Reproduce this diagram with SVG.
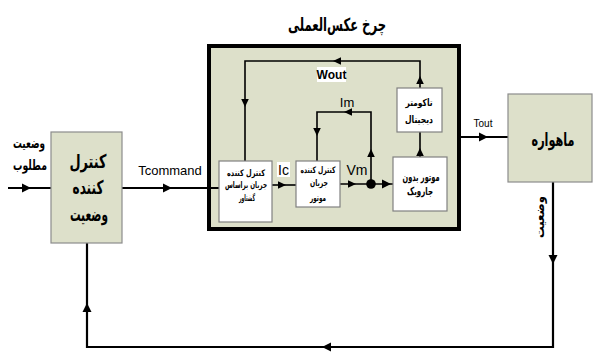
<svg xmlns="http://www.w3.org/2000/svg" width="593" height="353" viewBox="0 0 593 353">
<style>
.fa{font-family:"DejaVu Sans",sans-serif;font-weight:bold;text-anchor:middle;fill:#000}
.en{font-family:"Liberation Sans",Arial,sans-serif;text-anchor:middle;fill:#000}
.kh{fill:#dde0ca;stroke:#8c8c8c;stroke-width:1.2}
.wb{fill:#fff;stroke:#808080;stroke-width:1.2}
.ln{fill:none;stroke:#000;stroke-width:2.2}
.thin{fill:none;stroke:#000;stroke-width:1.6}
</style>
<defs>
<path id="ah" d="M0,0 L-9,-4.5 L-9,4.5 Z" fill="#000"/>
<path id="ahs" d="M0,0 L-8,-3.8 L-8,3.8 Z" fill="#000"/>
</defs>
<rect width="593" height="353" fill="#fff"/>

<g id="title">
<text class="fa" x="337" y="31" font-size="18" textLength="98" lengthAdjust="spacingAndGlyphs">چرخ عکس‌العملی</text>
</g>

<g id="reaction-wheel-loop">
<rect x="209" y="46" width="250" height="183" fill="#dde0ca" stroke="#000" stroke-width="4"/>
</g>

<g id="connectors">
<path class="ln" d="M8,188 H51"/>
<use href="#ah" transform="translate(31,188)"/>
<path class="ln" d="M122,188 H219"/>
<use href="#ah" transform="translate(172,188)"/>
<path class="thin" d="M272,185 H296"/>
<use href="#ahs" transform="translate(286,185)"/>
<path class="thin" d="M340,184 H393"/>
<use href="#ahs" transform="translate(356,184)"/>
<use href="#ah" transform="translate(391,184)"/>
<circle cx="371" cy="184" r="4.8" fill="#000"/>
<path class="thin" d="M371,184 V112 H317 V161"/>
<use href="#ahs" transform="translate(371,149) rotate(-90)"/>
<use href="#ahs" transform="translate(344,112) rotate(180)"/>
<use href="#ahs" transform="translate(317,136) rotate(90)"/>
<path class="thin" d="M420,157 V132"/>
<use href="#ahs" transform="translate(420,148) rotate(-90)"/>
<path class="thin" d="M420,88 V61 H245 V161"/>
<use href="#ahs" transform="translate(420,76) rotate(-90)"/>
<use href="#ahs" transform="translate(333,61) rotate(180)"/>
<use href="#ahs" transform="translate(245,107) rotate(90)"/>
<path class="ln" d="M459,137 H508"/>
<use href="#ah" transform="translate(488,137)"/>
<path class="ln" d="M553,182 V347 H87 V243"/>
<use href="#ah" transform="translate(553,264) rotate(90)"/>
<use href="#ah" transform="translate(322,347) rotate(180)"/>
<use href="#ah" transform="translate(87,303) rotate(-90)"/>
</g>

<g id="labels">
<text class="fa" x="29" y="148" font-size="14" textLength="32" lengthAdjust="spacingAndGlyphs">وضعیت</text>
<text class="fa" x="30" y="170" font-size="14" textLength="34" lengthAdjust="spacingAndGlyphs">مطلوب</text>
<text class="en" x="170" y="175" font-size="13">Tcommand</text>
<rect x="277" y="162" width="13" height="15" fill="#fff"/>
<text class="en" x="283.5" y="175" font-size="14">Ic</text>
<text class="en" x="357" y="175" font-size="14">Vm</text>
<text class="en" x="347" y="107" font-size="13">Im</text>
<rect x="317" y="67" width="29" height="15" fill="#fff"/>
<text class="en" x="331.5" y="79" font-size="12" font-weight="bold">Wout</text>
<text class="en" x="483" y="127" font-size="10">Tout</text>
<text class="fa" font-size="13" transform="translate(540,217) rotate(-90)" y="4" textLength="42" lengthAdjust="spacingAndGlyphs">وضعیت</text>
</g>

<g id="position-controller">
<rect class="kh" x="51" y="132" width="71" height="111"/>
<text class="fa" x="88" y="168" font-size="19" textLength="37" lengthAdjust="spacingAndGlyphs">کنترل</text>
<text class="fa" x="88" y="194" font-size="19" textLength="31" lengthAdjust="spacingAndGlyphs">کننده</text>
<text class="fa" x="89" y="221" font-size="19" textLength="38" lengthAdjust="spacingAndGlyphs">وضعیت</text>
</g>

<g id="torque-current-controller">
<rect class="wb" x="219" y="161" width="53" height="61"/>
<text class="fa" x="246" y="176" font-size="9" textLength="38" lengthAdjust="spacingAndGlyphs">کنترل کننده</text>
<text class="fa" x="246" y="188" font-size="9" textLength="42" lengthAdjust="spacingAndGlyphs">جریان براساس</text>
<text class="fa" x="247" y="201" font-size="9" textLength="16" lengthAdjust="spacingAndGlyphs">گشتاور</text>
</g>

<g id="motor-current-controller">
<rect class="wb" x="296" y="161" width="44" height="46"/>
<text class="fa" x="318" y="173" font-size="9" textLength="35" lengthAdjust="spacingAndGlyphs">کنترل کننده</text>
<text class="fa" x="319" y="186" font-size="9" textLength="18" lengthAdjust="spacingAndGlyphs">جریان</text>
<text class="fa" x="318" y="201" font-size="9" textLength="16" lengthAdjust="spacingAndGlyphs">موتور</text>
</g>

<g id="bldc-motor">
<rect class="wb" x="393" y="157" width="54" height="54"/>
<text class="fa" x="421" y="181" font-size="11" textLength="37" lengthAdjust="spacingAndGlyphs">موتور بدون</text>
<text class="fa" x="420" y="195" font-size="11" textLength="26" lengthAdjust="spacingAndGlyphs">جاروبک</text>
</g>

<g id="tachometer">
<rect class="wb" x="397" y="88" width="45" height="44"/>
<text class="fa" x="419" y="106" font-size="10" textLength="27" lengthAdjust="spacingAndGlyphs">تاکومتر</text>
<text class="fa" x="419" y="123" font-size="10" textLength="28" lengthAdjust="spacingAndGlyphs">دیجیتال</text>
</g>

<g id="satellite">
<rect class="kh" x="508" y="94" width="84" height="88"/>
<text class="fa" x="553" y="146" font-size="18" textLength="43" lengthAdjust="spacingAndGlyphs">ماهواره</text>
</g>
</svg>
